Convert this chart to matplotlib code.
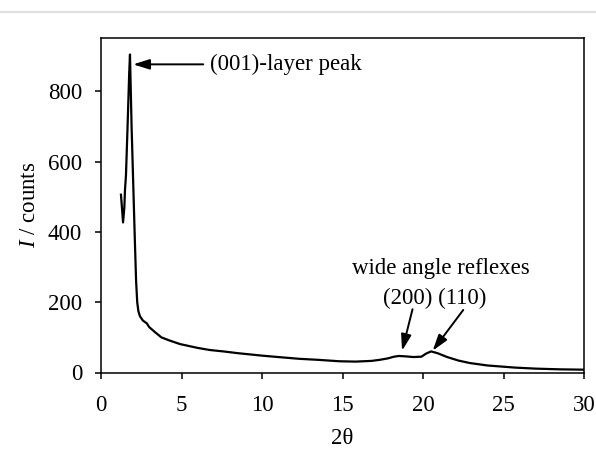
import matplotlib.pyplot as plt
from matplotlib.lines import Line2D

# XRD pattern
two_theta = [1.24, 1.30, 1.37, 1.45, 1.49, 1.55, 1.65, 1.75, 1.80, 1.90, 2.00, 2.10,
             2.18, 2.25, 2.32, 2.42, 2.60, 2.84, 3.00, 3.35, 3.75, 4.20, 4.90, 5.50,
             6.00, 6.76, 7.60, 8.50, 10.0, 11.0, 12.3, 13.5, 14.8, 15.8, 16.8, 17.3,
             17.8, 18.2, 18.5, 18.9, 19.4, 19.9, 20.2, 20.5, 20.9, 21.5, 22.2, 22.9,
             24.0, 25.7, 27.0, 28.5, 30.0]
counts = [506, 470, 427, 470, 520, 560, 700, 850, 905, 700, 540, 380,
          260, 200, 175, 160, 148, 140, 129, 115, 100, 92, 81, 75,
          70, 64, 60, 55, 48, 44, 39, 36, 32, 31, 33, 36,
          40, 45, 47, 46, 44, 45, 54, 60, 55, 44, 34, 27,
          20, 14, 11, 9, 8]

x_ticks = [0, 5, 10, 15, 20, 25, 30]
y_ticks = [0, 200, 400, 600, 800]

plt.rcParams['font.family'] = ['Liberation Serif', 'DejaVu Serif']
plt.rcParams['mathtext.fontset'] = 'custom'
plt.rcParams['mathtext.it'] = 'Liberation Serif:italic'
plt.rcParams['mathtext.rm'] = 'Liberation Serif'

FS = 16.5

fig = plt.figure(figsize=(5.96, 4.54), dpi=100)
ax = fig.add_axes([101 / 596, 1 - 372.5 / 454, 483 / 596, 334.5 / 454])

ax.plot(two_theta, counts, color='black', lw=1.6)

ax.set_xlim(0, 30)
ax.set_ylim(0, 952)
ax.set_xticks(x_ticks)
ax.set_yticks(y_ticks)
ax.tick_params(direction='out', length=4.5, width=1.1, labelsize=FS)
ax.tick_params(axis='x', pad=12)
ax.tick_params(axis='y', pad=9)
for s in ax.spines.values():
    s.set_linewidth(1.1)

ax.set_xlabel('2θ', fontsize=FS, labelpad=8)
ax.set_ylabel('$I$ / counts', fontsize=FS, labelpad=6)

arrow = dict(arrowstyle='-|>,head_length=0.7,head_width=0.22', color='black', lw=1.4,
             mutation_scale=14, shrinkA=0, shrinkB=0)
ax.annotate('', xy=(2.0, 877), xytext=(6.35, 877), arrowprops=arrow)
ax.text(6.8, 877, '(001)-layer peak', fontsize=FS, va='center', ha='left')

ax.text(21.1, 295, 'wide angle reflexes', fontsize=FS, ha='center', va='center')
ax.text(20.7, 210, '(200) (110)', fontsize=FS, ha='center', va='center')
ax.annotate('', xy=(18.7, 62), xytext=(19.35, 180), arrowprops=arrow)
ax.annotate('', xy=(20.6, 62), xytext=(22.5, 178), arrowprops=arrow)

# thin grey rule across the top of the image
fig.add_artist(Line2D([0, 1], [1 - 12 / 454] * 2, color='#e0e0e0', lw=1.5))

fig.savefig('out.png', dpi=100)
